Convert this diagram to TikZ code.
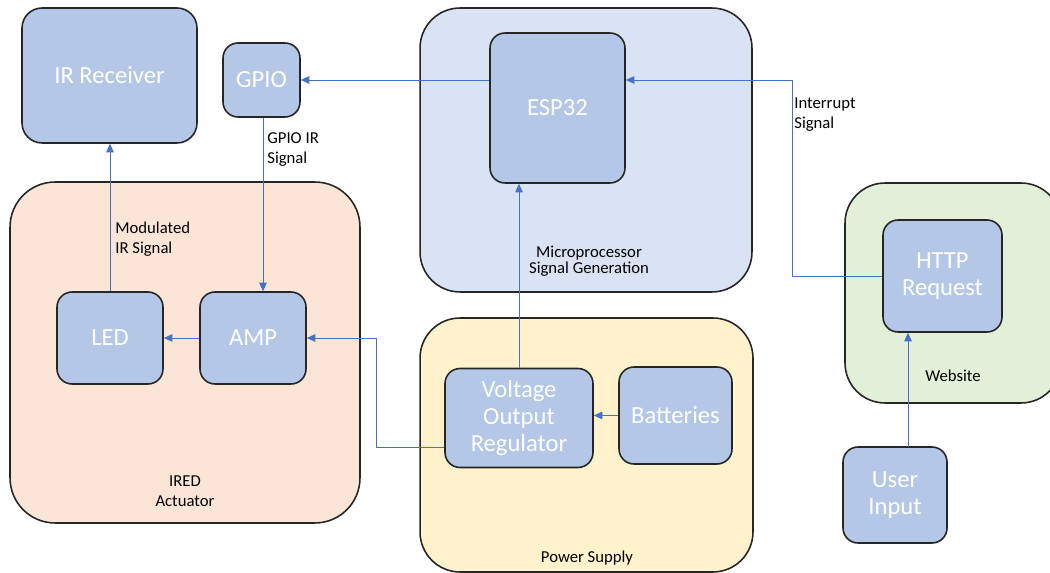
\documentclass[tikz,border=0pt]{standalone}
\usepackage{fontspec}
\setmainfont{Carlito}
\usepackage{xcolor}
\definecolor{blockfill}{HTML}{B4C7E7}
\definecolor{microbg}{HTML}{DAE3F3}
\definecolor{iredbg}{HTML}{FBE5D6}
\definecolor{powerbg}{HTML}{FFF2CC}
\definecolor{webbg}{HTML}{E2F0D9}
\definecolor{linkblue}{HTML}{4472C4}
\usetikzlibrary{positioning, arrows.meta, calc}

\begin{document}
\begin{tikzpicture}[x=0.02cm, y=-0.02cm,
  group/.style={draw=black!85, line width=0.9pt, rounded corners=0.8cm},
  block/.style={draw=black!85, line width=0.9pt, fill=blockfill, rounded corners=0.3cm,
               text=white, font=\fontsize{14}{15.6}\selectfont, align=center},
  caption/.style={font=\fontsize{9.5}{11.4}\selectfont, align=left, inner sep=0pt},
  link/.style={draw=linkblue, line width=0.5pt, -{Triangle[length=0.17cm, width=0.15cm]}},
]
\useasboundingbox (0,0) rectangle (1050,573);

% Groups
\node[group, fill=microbg, minimum width=6.64cm, minimum height=5.68cm] (micro) at (586,150) {};
\node[group, fill=iredbg, minimum width=7.0cm, minimum height=6.82cm, rounded corners=0.9cm] (ired) at (185,352.5) {};
\node[group, fill=powerbg, minimum width=6.66cm, minimum height=5.08cm] (power) at (586.5,445) {};
\node[group, fill=webbg, minimum width=4.32cm, minimum height=4.4cm] (web) at (953,293) {};

% Blocks
\node[block, minimum width=3.5cm, minimum height=2.7cm, rounded corners=0.4cm] (irrx) at (109.5,75.5) {IR Receiver};
\node[block, minimum width=1.54cm, minimum height=1.48cm] (gpio) at (261.5,80) {GPIO};
\node[block, minimum width=2.7cm, minimum height=3.0cm] (esp) at (557.5,108) {ESP32};
\node[block, minimum width=2.12cm, minimum height=1.84cm] (led) at (110,338) {LED};
\node[block, minimum width=2.12cm, minimum height=1.84cm] (amp) at (253,338) {AMP};
\node[block, minimum width=2.96cm, minimum height=1.98cm] (reg) at (519,418) {Voltage\\Output\\Regulator};
\node[block, minimum width=2.26cm, minimum height=1.94cm] (bat) at (675.5,415.5) {Batteries};
\node[block, minimum width=2.38cm, minimum height=2.24cm] (http) at (942.5,276) {HTTP\\Request};
\node[block, minimum width=2.08cm, minimum height=1.92cm] (user) at (895,495) {User\\Input};

% Group captions
\node[caption, align=center, font=\fontsize{9.5}{9.4}\selectfont] (microlbl) at (589,261) {Microprocessor\\Signal Generation};
\node[caption, align=center] (iredlbl) at (185,491) {IRED\\Actuator};
\node[caption, align=center] (powerlbl) at (587,558) {Power Supply};
\node[caption, align=center] (weblbl) at (953,376) {Website};

% Connector labels
\node[caption, anchor=north west] (gpiolbl) at (267,132) {GPIO IR\\Signal};
\node[caption, anchor=north west] (modlbl) at (115,222) {Modulated\\IR Signal};
\node[caption, anchor=north west] (intlbl) at (794,97) {Interrupt\\Signal};

% Bend points
\coordinate (intbend) at (792,80);
\coordinate (regbend) at (376,447);
\coordinate (userlink) at (908,447);

% Connectors
\draw[link] (esp.west |- gpio.east) -- (gpio.east);
\draw[link] (http.west) -| (intbend) -- (esp.east |- intbend);
\draw[link] ([xshift=0.03cm]gpio.south) -- ([xshift=0.03cm]gpio.south |- amp.north);
\draw[link] (led.north) -- (led.north |- irrx.south);
\draw[link] (amp.west) -- (led.east);
\draw[link] (reg.west |- regbend) -- (regbend) |- (amp.east);
\draw[link] (reg.north) -- (reg.north |- esp.south);
\draw[link] (bat.west) -- (reg.east |- bat.west);
\draw[link] (userlink) -- (userlink |- http.south);
\end{tikzpicture}
\end{document}
